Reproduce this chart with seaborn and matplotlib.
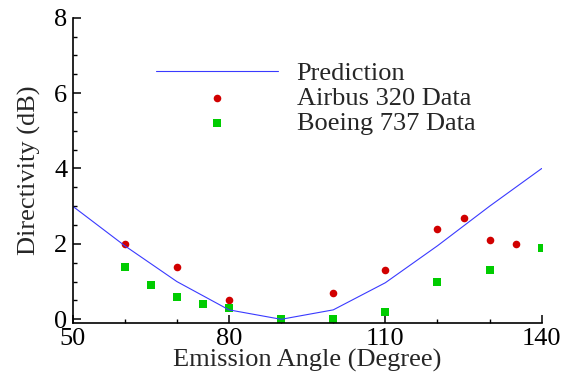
import matplotlib
matplotlib.use("Agg")
import matplotlib.pyplot as plt
from matplotlib.ticker import MultipleLocator
import seaborn as sns
import pandas as pd

# Predicted directivity curve
pred_angle = [50, 60, 70, 80, 90, 100, 110, 120, 130, 140]
pred_db = [3.0, 1.95, 1.0, 0.25, 0.0, 0.25, 0.97, 1.95, 3.0, 4.0]

# Measured directivity, Airbus 320
a320_angle = [60, 70, 80, 100, 110, 120, 125, 130, 135]
a320_db = [2.0, 1.4, 0.5, 0.7, 1.3, 2.4, 2.7, 2.1, 2.0]

# Measured directivity, Boeing 737
b737_angle = [60, 65, 70, 75, 80, 90, 100, 110, 120, 130, 140]
b737_db = [1.4, 0.9, 0.6, 0.4, 0.3, 0.0, 0.0, 0.2, 1.0, 1.3, 1.9]

x_ticks = [50, 80, 110, 140]
y_ticks = [0, 2, 4, 6, 8]

sns.set_theme(style="ticks")
plt.rcParams["font.family"] = ["Liberation Serif", "DejaVu Serif"]

pred = pd.DataFrame({"angle": pred_angle, "db": pred_db})
a320 = pd.DataFrame({"angle": a320_angle, "db": a320_db})
b737 = pd.DataFrame({"angle": b737_angle, "db": b737_db})

fig = plt.figure(figsize=(5.71, 3.75), dpi=100)
ax = fig.add_axes([0.1273, 0.1395, 0.8214, 0.8133])

sns.lineplot(data=pred, x="angle", y="db", ax=ax, color="#3a3aff",
             linewidth=0.8, label="Prediction")
sns.scatterplot(data=a320, x="angle", y="db", ax=ax, color="#d10000",
                marker="o", s=30, linewidth=0, label="Airbus 320 Data")
sns.scatterplot(data=b737, x="angle", y="db", ax=ax, color="#00cc00",
                marker="s", s=30, linewidth=0, label="Boeing 737 Data")

ax.set_xlim(50, 140)
ax.set_ylim(-0.09, 8)
ax.set_xticks(x_ticks)
ax.set_yticks(y_ticks)
ax.xaxis.set_minor_locator(MultipleLocator(10))
ax.yaxis.set_minor_locator(MultipleLocator(0.5))

for side in ("top", "right"):
    ax.spines[side].set_visible(False)
for side in ("left", "bottom"):
    ax.spines[side].set_linewidth(1.2)
    ax.spines[side].set_color("black")

ax.tick_params(which="major", direction="in", length=5.5, width=1.1,
               labelsize=19, colors="black", pad=4)
ax.tick_params(which="minor", direction="in", length=3.2, width=1.0,
               colors="black")

ax.set_xlabel("Emission Angle (Degree)", fontsize=19, labelpad=-1)
ax.set_ylabel("Directivity (dB)", fontsize=19, labelpad=9)

leg = ax.legend(loc="upper left", bbox_to_anchor=(0.178, 0.857),
                frameon=False, fontsize=19, handlelength=4.6,
                handletextpad=0.72, labelspacing=0.06, borderpad=0,
                borderaxespad=0, markerscale=1.0)

fig.savefig("out.png", dpi=100)
